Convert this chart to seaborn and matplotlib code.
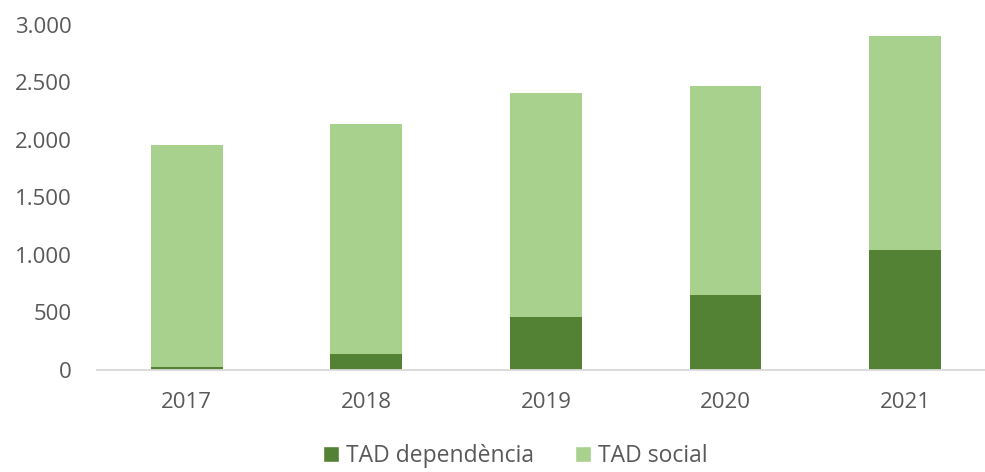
import matplotlib
matplotlib.use("Agg")
import matplotlib.pyplot as plt
import seaborn as sns
import pandas as pd
from matplotlib.patches import Patch

years = ["2017", "2018", "2019", "2020", "2021"]
tad_dependencia = [22, 136, 456, 647, 1037]
tad_social_total = [1951, 2137, 2405, 2465, 2906]  # stacked total
tad_social = [t - d for t, d in zip(tad_social_total, tad_dependencia)]
yticks = [0, 500, 1000, 1500, 2000, 2500, 3000]
ytick_labels = ["0", "500", "1.000", "1.500", "2.000", "2.500", "3.000"]

dark = "#548235"
light = "#A9D18E"
txt = "#595959"

sns.set_theme(style="white")
plt.rcParams['font.family'] = ['Open Sans', 'DejaVu Sans']

df = pd.DataFrame({"year": years, "dep": tad_dependencia, "social": tad_social})
df["total"] = df["dep"] + df["social"]

fig = plt.figure(figsize=(9.85, 4.72), dpi=100)
ax = fig.add_axes([97/985, (472-369.5)/472, (985-97)/985, (369.5-25)/472])

sns.barplot(data=df, x="year", y="total", color=light, width=0.4, ax=ax,
            saturation=1, edgecolor="none", linewidth=0)
sns.barplot(data=df, x="year", y="dep", color=dark, width=0.4, ax=ax,
            saturation=1, edgecolor="none", linewidth=0)

ax.set_ylim(0, 3000)
ax.set_xlim(-0.5, 4.445)
ax.set_yticks(yticks)
ax.set_yticklabels(ytick_labels)
ax.set_xlabel("")
ax.set_ylabel("")
for s in ["top", "right", "left"]:
    ax.spines[s].set_visible(False)
ax.spines["bottom"].set_color("#D9D9D9")
ax.spines["bottom"].set_linewidth(1.3)
ax.tick_params(axis="both", length=0, labelsize=16, colors=txt)
ax.tick_params(axis="y", pad=18)
ax.tick_params(axis="x", pad=16)

handles = [Patch(facecolor=dark, label="TAD dependència"),
           Patch(facecolor=light, label="TAD social")]
fig.legend(handles=handles, loc="center", bbox_to_anchor=(515/985, 1 - 456/472),
           ncol=2, frameon=False, fontsize=16.5, handlelength=0.7, handleheight=0.7,
           handletextpad=0.3, columnspacing=1.8, labelcolor=txt)

fig.savefig("out.png", dpi=100)
